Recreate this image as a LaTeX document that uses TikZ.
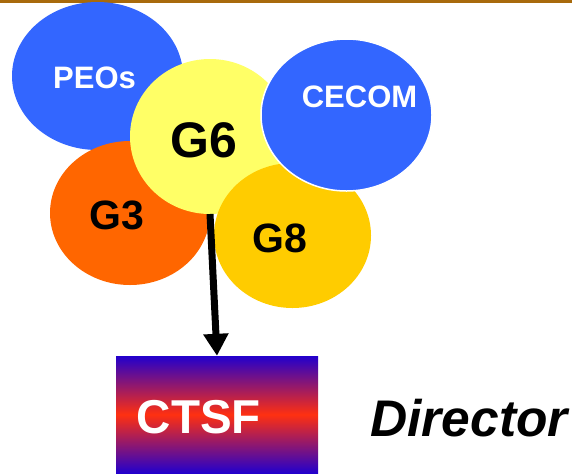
\documentclass[tikz,border=0pt]{standalone}
\usepackage{fontspec}
\setmainfont{Liberation Sans}
\usetikzlibrary{shapes.geometric,arrows.meta}
\definecolor{peoblue}{HTML}{3366FF}
\definecolor{gsix}{HTML}{FFFF66}
\definecolor{gthree}{HTML}{FF6600}
\definecolor{geight}{HTML}{FFCC00}
\definecolor{topline}{HTML}{A86A0C}
\definecolor{boxblue}{HTML}{2200CC}
\definecolor{boxred}{HTML}{FF3010}
\tikzset{
  blob/.style={shape=ellipse, inner sep=0pt, outer sep=0pt},
  lbl/.style={anchor=base, inner sep=0pt, font=\bfseries},
}
\begin{document}
\begin{tikzpicture}[x=1pt, y=-1pt]
\useasboundingbox (0,0) rectangle (572,475);
\fill[white] (0,0) rectangle (572,475);
\draw[topline, line width=3pt] (0,1.5) -- (572,1.5);
% ellipses
\node[blob, fill=peoblue, minimum width=171pt, minimum height=148pt] (peos) at (97.5,76) {};
\node[blob, fill=gthree, minimum width=160pt, minimum height=144pt] (g3) at (130,213) {};
\node[blob, fill=gsix, minimum width=160pt, minimum height=155pt] (g6) at (210,136.5) {};
\node[blob, fill=geight, minimum width=157pt, minimum height=145pt] (g8) at (292.5,235.5) {};
\node[blob, fill=peoblue, draw=white, line width=1.5pt, minimum width=171pt, minimum height=152pt] (cecom) at (346.5,115) {};
% labels
\node[lbl, text=white, font=\bfseries\fontsize{31}{31}\selectfont] (peoslbl) at (94.5,88) {PEOs};
\node[lbl, text=white, font=\bfseries\fontsize{31}{31}\selectfont] (cecomlbl) at (359.5,107) {CECOM};
\node[lbl, font=\bfseries\fontsize{50}{50}\selectfont] (g6lbl) at (203.5,157) {G6};
\node[lbl, font=\bfseries\fontsize{41}{41}\selectfont] (g3lbl) at (116.5,229) {G3};
\node[lbl, font=\bfseries\fontsize{41}{41}\selectfont] (g8lbl) at (279.5,252) {G8};
% CTSF box
\coordinate (boxtl) at (116,356);
\coordinate (boxbr) at (318,473);
\shade[top color=boxblue, bottom color=boxblue, middle color=boxred] (boxtl) rectangle (boxbr);
\node[inner sep=0pt, minimum width=202pt, minimum height=117pt] (ctsf) at (217,414.5) {};
\node[lbl, text=white, font=\bfseries\fontsize{47.5}{47.5}\selectfont] (ctsflbl) at (199,433) {CTSF};
\node[lbl, anchor=base west, font=\bfseries\itshape\fontsize{51.5}{51.5}\selectfont] (director) at (370,436) {Director};
% arrow
\draw[line width=7pt, -{Triangle[width=24pt,length=22pt]}] (g6.south) -- (ctsf.north);
\end{tikzpicture}
\end{document}
